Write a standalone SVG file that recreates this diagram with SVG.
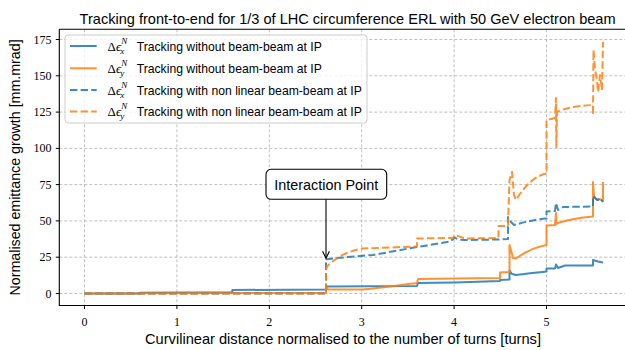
<svg xmlns="http://www.w3.org/2000/svg" width="625" height="350" viewBox="0 0 625 350">
<style>
.sans{font-family:"Liberation Sans","DejaVu Sans",sans-serif;fill:#000}
.serif{font-family:"Liberation Serif","DejaVu Serif",serif;fill:#000}
.grid{stroke:#b0b0b0;stroke-width:0.8;stroke-dasharray:3 2;fill:none}
.spine{stroke:#000;stroke-width:1.1;fill:none}
.tick{stroke:#000;stroke-width:1;fill:none}
.ytl{font-size:12px;text-anchor:end}
.xtl{font-size:12px;text-anchor:middle}
.c{fill:none;stroke-width:2;stroke-opacity:0.85;stroke-linejoin:round}
.bx{stroke:#1f77b4}
.or{stroke:#ff7f0e}
.da{stroke-dasharray:7.4 3.2}
.leg{font-size:12.2px}
</style>
<rect width="625" height="350" fill="#fff"/>
<g id="grid">
<path class="grid" d="M84.5,29.3V305.5M176.9,29.3V305.5M269.3,29.3V305.5M361.7,29.3V305.5M454.1,29.3V305.5M546.5,29.3V305.5"/>
<path class="grid" d="M59.3,293.5H625M59.3,257.2H625M59.3,220.9H625M59.3,184.6H625M59.3,148.4H625M59.3,112.1H625M59.3,75.8H625M59.3,39.5H625"/>
</g>
<g id="curves">
<path class="c bx" d="M84.5,293.5 L140,293.5 L140,292.8 L232.3,292.3 L232.3,290 L326,289.5 L326,286.5 L417,286 L418,283 L455,282.5 L500,281 L500,280 L509.5,279.5 L509.5,270.5 L512,274 L516,275 C525,274 535,272.5 546.5,271.5 L546.5,268.5 L555,268.5 L556,264.5 L558,268 L565,265.5 L593,265.5 L593,260 L598,261.5 L603,262.5"/>
<path class="c or" d="M84.5,293.5 L326,292.8 L326,286.5 L328,289.5 L361.7,289.5 C380,288 400,285 417,283 L418,279 L455,278.5 L500,278 L500,272.5 L509.5,272 L509.5,245 L511,250 L513,258 L516,258.5 C525,252 535,247 546.5,245 L546.5,225.5 L555,225 L556,213 L556.5,224 L558,223 C570,219 580,217.5 593,216.5 L593,182 L594,196 L597,200 L600,199 L603,201 L603,182"/>
<path class="c bx da" d="M84.5,293.5 L326,293.5 L326,259.3 C340,257.5 360,256 373,255 C390,252 410,248 430,245 L450,241.5 L455,237.5 L458,239.5 L465,240 L500,239.5 L508,239 L508,217 L511,222 L514,225 C525,222 535,219.5 546.5,218.5 L546.5,211.5 L555,211 L556,203 L558,210 L563,207 L593,206.5 L593,196 L596,199 L598,200 L600,198 L603,202"/>
<path class="c or da" d="M84.5,293.5 L326,293.5 L326,270 L327,266.5 C335,258 348,251 362,248.5 L417,246.5 L417,238.5 L453,238 L455,235 L465,238.5 L498.5,238 L498.5,226 L508,226 L509.5,180 L511,175 L512,172 L514,195 L516,200 C525,185 535,176 546.5,173.5 L546.5,120 L555,118 L556,98 L556.3,147 L557,112 C565,108 575,106 593,105 L593,115 L593.5,50 L595,70 L597,80 L598,92 L600,75 L602,90 L603,42"/>
</g>
<g id="axes">
<path class="spine" d="M59.3,29.3V305.5H625M59.3,29.3H625"/>
<path class="tick" d="M55.8,293.5H59.3M55.8,257.2H59.3M55.8,220.9H59.3M55.8,184.6H59.3M55.8,148.4H59.3M55.8,112.1H59.3M55.8,75.8H59.3M55.8,39.5H59.3"/>
<path class="tick" d="M84.5,305.5V309M176.9,305.5V309M269.3,305.5V309M361.7,305.5V309M454.1,305.5V309M546.5,305.5V309"/>
<g class="serif ytl">
<text x="51.5" y="297.5">0</text>
<text x="51.5" y="261.2">25</text>
<text x="51.5" y="224.9">50</text>
<text x="51.5" y="188.6">75</text>
<text x="51.5" y="152.4">100</text>
<text x="51.5" y="116.1">125</text>
<text x="51.5" y="79.8">150</text>
<text x="51.5" y="43.5">175</text>
</g>
<g class="serif xtl">
<text x="84.5" y="325.5">0</text>
<text x="176.9" y="325.5">1</text>
<text x="269.3" y="325.5">2</text>
<text x="361.7" y="325.5">3</text>
<text x="454.1" y="325.5">4</text>
<text x="546.5" y="325.5">5</text>
</g>
<text class="sans" x="347.6" y="23.5" font-size="14.5" text-anchor="middle" textLength="536" lengthAdjust="spacingAndGlyphs">Tracking front-to-end for 1/3 of LHC circumference ERL with 50 GeV electron beam</text>
<text class="sans" x="343" y="344" font-size="15" text-anchor="middle" textLength="396" lengthAdjust="spacingAndGlyphs">Curvilinear distance normalised to the number of turns [turns]</text>
<text class="sans" transform="translate(19.5,167.4) rotate(-90)" x="0" y="0" font-size="15" text-anchor="middle" textLength="256" lengthAdjust="spacingAndGlyphs">Normalised emittance growth [mm.mrad]</text>
</g>
<g id="legend">
<rect x="65" y="35" width="302" height="88" rx="3" fill="#fff" fill-opacity="0.8" stroke="#cccccc" stroke-width="1"/>
<path class="c bx" d="M70,46H96.7"/>
<path class="c or" d="M70,68.3H96.7"/>
<path class="c bx da" d="M70,90H96.7"/>
<path class="c or da" d="M70,111.5H96.7"/>
<g class="leg">
<text class="serif" x="107.5" y="50.5" font-size="13">Δ<tspan font-style="italic">ϵ</tspan><tspan font-size="9" font-style="italic" dy="-7">N</tspan><tspan font-size="9" font-style="italic" dx="-7" dy="10">x</tspan></text>
<text class="sans" x="136.7" y="50.5">Tracking without beam-beam at IP</text>
<text class="serif" x="107.5" y="72.8" font-size="13">Δ<tspan font-style="italic">ϵ</tspan><tspan font-size="9" font-style="italic" dy="-7">N</tspan><tspan font-size="9" font-style="italic" dx="-7" dy="10">y</tspan></text>
<text class="sans" x="136.7" y="72.8">Tracking without beam-beam at IP</text>
<text class="serif" x="107.5" y="94.5" font-size="13">Δ<tspan font-style="italic">ϵ</tspan><tspan font-size="9" font-style="italic" dy="-7">N</tspan><tspan font-size="9" font-style="italic" dx="-7" dy="10">x</tspan></text>
<text class="sans" x="136.7" y="94.5">Tracking with non linear beam-beam at IP</text>
<text class="serif" x="107.5" y="116" font-size="13">Δ<tspan font-style="italic">ϵ</tspan><tspan font-size="9" font-style="italic" dy="-7">N</tspan><tspan font-size="9" font-style="italic" dx="-7" dy="10">y</tspan></text>
<text class="sans" x="136.7" y="116">Tracking with non linear beam-beam at IP</text>
</g>
</g>
<g id="annotation">
<path d="M326,199.3V258" stroke="#000" stroke-width="1.1" fill="none"/>
<path d="M322.6,251.3L326,258.3L329.4,251.3" stroke="#000" stroke-width="1.1" fill="none"/>
<rect x="266" y="169.3" width="120.7" height="30" rx="5" fill="#fff" stroke="#000" stroke-width="1.1"/>
<text class="sans" x="326.3" y="189.5" font-size="15" text-anchor="middle" textLength="104" lengthAdjust="spacingAndGlyphs">Interaction Point</text>
</g>
</svg>
